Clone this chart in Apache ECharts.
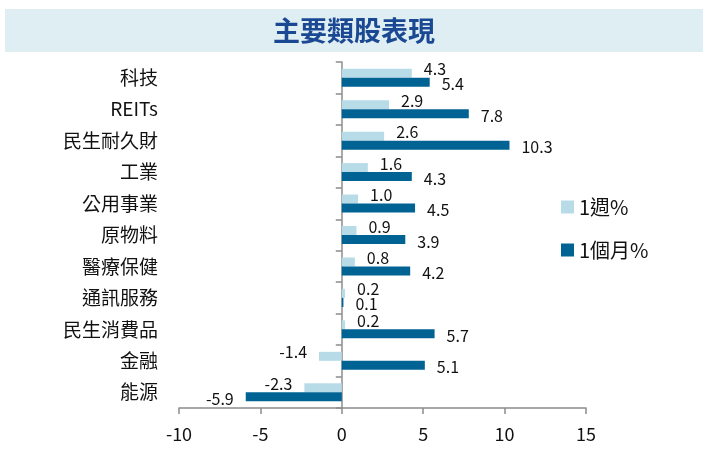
<!DOCTYPE html>
<html>
<head>
<meta charset="utf-8">
<script src="https://cdn.jsdelivr.net/npm/echarts@6/dist/echarts.min.js"></script>
<style>html,body{margin:0;padding:0;background:#fff;}#c{width:708px;height:471px;}</style>
</head>
<body>
<div id="c"></div>
<script>
const titleText = '主要類股表現';
const categories = ['科技', 'REITs', '民生耐久財', '工業', '公用事業', '原物料', '醫療保健', '通訊服務', '民生消費品', '金融', '能源'];
const weekName = '1週%';
const monthName = '1個月%';
const weekValues = [4.3, 2.9, 2.6, 1.6, 1.0, 0.9, 0.8, 0.2, 0.2, -1.4, -2.3];
const monthValues = [5.4, 7.8, 10.3, 4.3, 4.5, 3.9, 4.2, 0.1, 5.7, 5.1, -5.9];
const xMin = -10, xMax = 15, xStep = 5;

const FONT = '"Noto Sans CJK TC", "Noto Sans", sans-serif';
const chart = echarts.init(document.getElementById('c'), null, {renderer: 'canvas'});

function toItems(vals, offY) {
  return vals.map(v => ({
    value: v,
    label: {position: v < 0 ? 'left' : 'right', offset: [0, offY]}
  }));
}
const labelBase = {
  show: true, distance: 12, color: '#111', fontSize: 16, fontFamily: FONT,
  formatter: p => p.value.toFixed(1)
};

chart.setOption({
  animation: false,
  backgroundColor: '#fff',
  graphic: [{
    type: 'rect', shape: {x: 5, y: 9, width: 698, height: 43},
    style: {fill: '#dfeef3'}, z: -1
  }],
  title: {
    text: titleText, left: 'center', top: 12,
    textStyle: {fontSize: 27, fontWeight: 'bold', color: '#1b4892', fontFamily: FONT}
  },
  legend: {
    orient: 'vertical', left: 561, top: 197, padding: 0,
    itemWidth: 13, itemHeight: 13, itemGap: 23,
    icon: 'rect',
    textStyle: {fontSize: 20, color: '#111', fontFamily: FONT, padding: [0, 0, 0, 0]},
    data: [weekName, monthName]
  },
  grid: {left: 179, right: 122, top: 62, bottom: 63, containLabel: false, outerBoundsMode: 'none'},
  xAxis: {
    type: 'value', min: xMin, max: xMax, interval: xStep,
    axisLine: {show: true, lineStyle: {color: '#8c8c8c', width: 1.5}},
    axisTick: {show: true, length: 6, lineStyle: {color: '#8c8c8c', width: 1.5}},
    splitLine: {show: false},
    axisLabel: {fontSize: 18, color: '#111', margin: 17, fontFamily: FONT}
  },
  yAxis: {
    type: 'category', data: categories, inverse: true,
    axisLine: {show: true, onZero: true, lineStyle: {color: '#8c8c8c', width: 1.5}},
    axisTick: {show: true, length: 6, lineStyle: {color: '#8c8c8c', width: 1.5}},
    axisLabel: {fontSize: 19, color: '#111', margin: 21, fontFamily: FONT}
  },
  series: [
    {
      name: weekName, type: 'bar', data: toItems(weekValues, -4),
      barWidth: 9, barGap: '0%',
      itemStyle: {color: '#b7dce7'},
      label: labelBase
    },
    {
      name: monthName, type: 'bar', data: toItems(monthValues, 2),
      barWidth: 9, barGap: '0%',
      itemStyle: {color: '#006394'},
      label: labelBase
    }
  ]
});
</script>
</body>
</html>
